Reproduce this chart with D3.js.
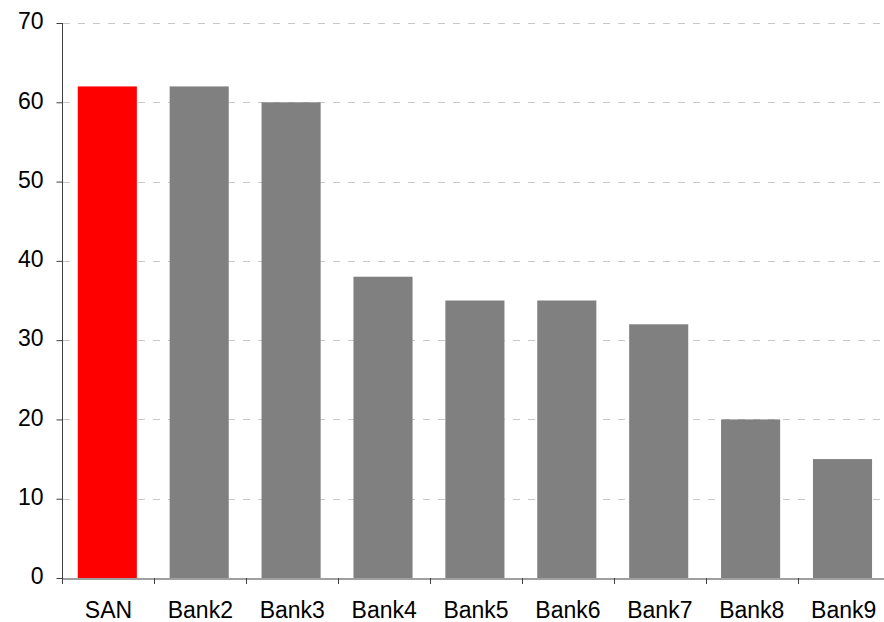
<!DOCTYPE html>
<html><head><meta charset="utf-8">
<script src="https://cdn.jsdelivr.net/npm/d3@7"></script>
<style>
html,body{margin:0;padding:0;background:#fff;overflow:hidden}
svg{display:block;font-family:Arial,"Liberation Sans",sans-serif}
</style></head><body>
<script>
const categories = ["SAN","Bank2","Bank3","Bank4","Bank5","Bank6","Bank7","Bank8","Bank9"];
const values = [62,62,60,38,35,35,32,20,15];
const highlight = ["SAN"];
const yTicks = [0,10,20,30,40,50,60,70];

const W = 884, H = 622;
const svg = d3.select("body").append("svg").attr("width", W).attr("height", H);

const x = d3.scaleBand().domain(categories).range([62.5, 62.5 + 9*91.9]).paddingInner(0).paddingOuter(0);
const y = d3.scaleLinear().domain([0,70]).range([578, 23]);
const bw = x.bandwidth();
const FONT = "Arial, 'Liberation Sans', sans-serif";

// gridlines
svg.append("g").selectAll("line").data(yTicks.filter(d=>d>0)).join("line")
  .attr("x1", 63).attr("x2", W)
  .attr("y1", d=>Math.round(y(d))+0.5).attr("y2", d=>Math.round(y(d))+0.5)
  .attr("stroke", "#c8c8c8").attr("stroke-width", 1).attr("stroke-dasharray", "7,8");

// bars
svg.append("g").selectAll("rect").data(categories).join("rect")
  .attr("x", d => x(d) + bw*0.166)
  .attr("width", bw*0.643)
  .attr("y", (d,i) => y(values[i]))
  .attr("height", (d,i) => y(0) - y(values[i]))
  .attr("fill", d => highlight.includes(d) ? "#ff0000" : "#808080");

// y axis
const yAxis = svg.append("g").attr("transform", "translate(62.5,0)")
  .call(d3.axisLeft(y).tickValues(yTicks).tickSize(6).tickPadding(13).tickSizeOuter(0));
yAxis.select(".domain").attr("stroke", "#404040").attr("d", `M0,${y(70)}V${y(0)+6}`);
yAxis.selectAll(".tick line").attr("stroke", "#404040");
yAxis.selectAll("text").attr("font-size", 23).attr("fill", "#000").attr("font-family", FONT).attr("dy", "0.25em");

// x axis
const xAxis = svg.append("g").attr("transform", `translate(0,${Math.round(y(0))+0.5})`)
  .call(d3.axisBottom(x).tickSize(0).tickPadding(23).tickSizeOuter(0));
xAxis.select(".domain").attr("stroke", "#404040");
xAxis.selectAll("text").attr("font-size", 23).attr("fill", "#000").attr("font-family", FONT);
// boundary ticks between categories
svg.append("g").selectAll("line").data(categories.slice(1)).join("line")
  .attr("x1", d => Math.round(x(d))+0.5).attr("x2", d => Math.round(x(d))+0.5)
  .attr("y1", Math.round(y(0))).attr("y2", Math.round(y(0))+6)
  .attr("stroke", "#404040");
</script>
</body></html>
